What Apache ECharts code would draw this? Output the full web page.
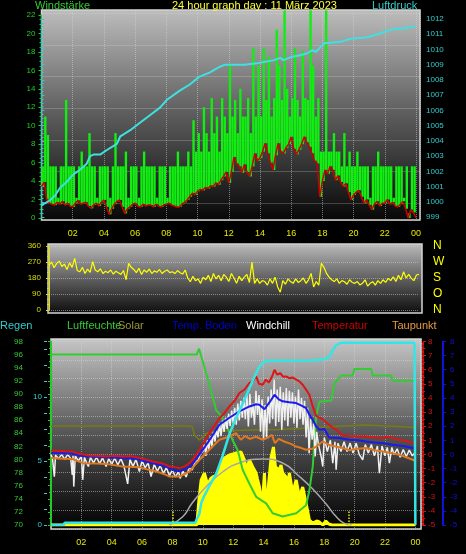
<!DOCTYPE html>
<html>
<head>
<meta charset="utf-8">
<title>24 hour graph day : 11 März 2023</title>
<script src="https://cdn.jsdelivr.net/npm/echarts@6/dist/echarts.min.js"></script>
<style>
  html, body { margin: 0; padding: 0; background: #000; }
  #chart { width: 466px; height: 554px; }
</style>
</head>
<body>
<div id="chart"></div>
<script>
// wind and direction: one sample every 10 minutes, 00:00 .. 24:00
const STEP = 1 / 6;

const windGust = [
  5.6, 11, 9, 5.6, 5.6, 5.6,
  2.2, 5.6, 5.6, 12.8, 5.6, 5.6,
  5.6, 2.2, 5.6, 7.2, 5.6, 5.6,
  9.2, 5.6, 5.6, 2.2, 5.6, 5.6,
  5.6, 5.6, 2.2, 5.6, 9.2, 5.6,
  5.6, 5.6, 7.2, 2.2, 5.6, 5.6,
  5.6, 2.2, 5.6, 7.2, 5.6, 5.6,
  5.6, 5.6, 2.2, 5.6, 5.6, 5.6,
  2.2, 5.6, 5.6, 5.6, 7.2, 5.6,
  5.6, 5.6, 7.2, 5.6, 10.6, 7.2,
  9.2, 7.2, 12, 9.2, 7.2, 13,
  9.2, 11, 7.2, 13, 11, 9.2,
  16.5, 11, 12.8, 9.2, 14, 11,
  11, 13, 9.2, 18.4, 11, 16.5,
  11, 18.4, 12.8, 17.5, 11, 13,
  20.4, 16.5, 12.8, 22.5, 14, 11,
  13, 18.4, 12.8, 11, 18.1, 13,
  12.8, 22.5, 16.5, 11, 13, 7.2,
  7.2, 22.5, 7.2, 7.2, 9.2, 7.2,
  7.2, 5.6, 9.2, 5.6, 7.2, 5.6,
  5.6, 7.2, 5.6, 5.6, 5.6, 5.6,
  2.2, 5.6, 5.6, 7.2, 5.6, 5.6,
  5.6, 5.6, 5.6, 2.2, 5.6, 5.6,
  5.6, 2.2, 5.6, 0.5, 5.6, 5.6,
  0
];

const windAvg = [
  3.4, 3.9, 2.0, 1.6, 1.5, 1.4,
  1.7, 1.5, 1.8, 1.4, 1.6, 1.3,
  1.2, 1.6, 1.9, 1.5, 1.6, 1.7,
  1.3, 1.05, 1.4, 1.6, 1.3, 1.7,
  1.95, 1.2, 0.4, 1.0, 1.5, 1.8,
  1.95, 1.2, 0.5, 1.0, 1.2, 1.5,
  1.6, 1.3, 1.2, 1.5, 1.3, 1.4,
  1.4, 1.2, 1.5, 1.3, 1.2, 1.4,
  1.5, 1.6, 1.4, 1.3, 1.2, 1.2,
  1.5, 1.7, 1.95, 2.3, 2.7, 2.5,
  2.9, 3.1, 3.0, 3.3, 3.2, 3.5,
  3.4, 3.8, 3.6, 4.1, 4.5, 5.0,
  3.8, 5.0, 6.6, 5.9, 5.6, 4.9,
  5.8, 5.0, 4.5, 5.6, 7.0, 6.2,
  6.5, 7.2, 8.1, 7.0, 6.0, 5.2,
  6.8, 8.1, 7.2, 7.0, 7.6, 8.0,
  8.8, 7.5, 6.9, 7.4, 8.0, 8.8,
  8.2, 7.7, 7.0, 6.2, 5.9, 2.3,
  4.0, 5.2, 4.8, 5.6, 5.2, 4.1,
  4.6, 3.9, 3.4, 3.75, 2.8, 1.95,
  2.5, 2.8, 3.0, 2.3, 1.6, 2.0,
  1.4, 0.9, 1.5, 1.8, 1.3, 1.6,
  1.6, 2.0, 1.5, 1.7, 1.3, 1.2,
  1.5, 1.8, 1.0, 0.0, 0.9, 0.6,
  0.0
];

const windDir = [
  253, 270, 238, 262, 275, 245,
  258, 228, 265, 240, 290, 222,
  215, 240, 205, 230, 212, 272,
  225, 215, 232, 205, 218, 210,
  225, 202, 218, 210, 200, 222,
  170, 262, 240, 228, 210, 235,
  200, 225, 212, 230, 205, 220,
  212, 228, 205, 218, 225, 210,
  215, 205, 222, 210, 202, 225,
  180, 159, 190, 165, 175, 150,
  185, 170, 195, 160, 205, 175,
  195, 165, 200, 185, 160, 205,
  180, 150, 190, 165, 185, 200,
  155, 270, 150, 175, 150, 165,
  160, 140, 175, 150, 185, 130,
  100, 165, 145, 175, 160, 150,
  175, 155, 165, 180, 150, 170,
  206, 130, 160, 140, 262, 240,
  206, 185, 170, 160, 175, 150,
  165, 159, 145, 170, 155, 150,
  160, 141, 150, 170, 135, 150,
  159, 140, 165, 150, 170, 155,
  178, 165, 187, 160, 195, 170,
  215, 180, 200, 178, 165, 197,
  200
];

// [hour, hPa]
const pressure = [
  [0, 999.8], [0.22, 999.9], [0.54, 1000.1], [0.86, 1000.4], [1.18, 1000.9], [1.61, 1001.3],
  [2.04, 1001.8], [2.47, 1002.1], [2.9, 1002.5], [3.11, 1003.0], [3.33, 1003.1], [3.76, 1003.1],
  [4.19, 1003.4], [4.83, 1003.8], [5.05, 1004.3], [5.69, 1004.7], [6.33, 1005.2], [6.97, 1005.7],
  [7.61, 1006.2], [8.04, 1006.7], [8.86, 1007.3], [9.5, 1007.7], [10.1, 1008.2], [10.8, 1008.5],
  [11.4, 1008.85], [11.76, 1009.0], [12.98, 1009.0], [13.83, 1009.1], [14.9, 1009.3], [15.3, 1009.45],
  [15.5, 1009.3], [15.97, 1009.5], [16.5, 1009.6], [17.04, 1009.75], [17.36, 1009.95], [17.6, 1009.85],
  [18.1, 1010.4], [19.16, 1010.5], [19.8, 1010.7], [20.87, 1010.8], [21.7, 1011.05], [22.34, 1011.3],
  [23.2, 1011.4], [23.95, 1011.5]
];

// [hour, W/m²]
const solarRad = [
  [0, 0], [9.6, 0], [9.75, 130], [9.89, 225], [10.1, 260], [10.32, 200], [10.5, 230], [10.65, 240],
  [10.98, 250], [11.2, 300], [11.42, 335], [11.75, 350], [12.0, 355], [12.2, 360], [12.52, 365],
  [12.74, 325], [12.85, 275], [13.07, 325], [13.29, 290], [13.51, 260], [13.6, 230], [13.73, 190],
  [13.85, 120], [13.95, 140], [14.06, 260], [14.17, 60], [14.34, 210], [14.5, 340], [14.65, 390],
  [14.78, 290], [15.05, 275], [15.15, 300], [15.26, 260], [15.48, 240], [15.6, 200], [15.7, 260],
  [15.92, 160], [16.05, 150], [16.15, 225], [16.25, 230], [16.36, 140], [16.58, 190], [16.8, 110],
  [17.02, 25], [17.24, 10], [17.5, 20], [17.68, 15], [17.9, 0], [18.1, 20], [18.3, 5], [18.5, 0], [24, 0]
];

const solarMax = [
  [7.8, 0], [8.66, 40], [9.3, 110], [10.2, 190], [11.3, 265], [12.4, 310], [13.95, 330],
  [15.26, 310], [16.4, 240], [17.24, 180], [18.12, 105], [18.78, 42], [19.33, 8], [19.8, 0]
];

const solar = [
  [0, 495], [8.9, 495], [9.3, 493], [9.45, 450], [9.78, 425], [10.0, 440], [10.2, 458], [10.9, 467],
  [12.0, 472], [13.07, 475], [15.0, 478], [16.36, 483], [18.56, 492], [20.76, 500], [22.95, 492], [24, 488]
];

const sunTimes = [8.0, 19.58];

// [hour, mm]
const rain = [
  [0, 0], [0.85, 0], [0.9, 0.18], [9.5, 0.18], [9.6, 0.3], [9.78, 0.9], [9.89, 1.7], [10.1, 2.3],
  [10.5, 3.2], [10.88, 4.0], [11.3, 5.4], [11.75, 7.1], [12.2, 8.4], [12.63, 9.5], [13.0, 10.5],
  [13.29, 11.3], [13.73, 12.4], [14.06, 12.76], [14.3, 12.83], [17.24, 12.85], [17.5, 12.9],
  [18.0, 12.95], [18.34, 13.15], [18.56, 13.67], [18.78, 14.06], [19.11, 14.24], [23.94, 14.24], [24, 0]
];

// [hour, %]
const humidity = [
  [0, 96], [9.6, 96], [9.75, 96.9], [9.85, 96.9], [10.1, 94.1], [10.55, 90.5], [10.88, 87.5],
  [11.2, 86.7], [11.64, 84.7], [11.97, 82.9], [12.3, 81.4], [12.63, 78.4], [13.07, 76.3],
  [13.51, 74.3], [14.17, 73.3], [14.6, 71.8], [15.26, 71.3], [16.15, 71.8], [16.8, 73],
  [17.02, 75.3], [17.24, 78.9], [17.46, 86.5], [17.68, 88.8], [18.45, 89.0], [18.67, 91.6],
  [19.11, 92.8], [19.87, 92.8], [19.98, 93.8], [21.09, 93.8], [21.19, 92.8], [22.4, 92.8],
  [22.51, 92], [24, 92]
];

// [hour, °C]
const temperature = [
  [0, 0.28], [0.5, 0.25], [1.0, 0.22], [1.43, 0.2], [1.87, 0.04], [2.5, -0.08], [3.0, -0.1],
  [3.63, -0.15], [4.2, -0.1], [4.72, -0.15], [5.3, -0.12], [5.82, -0.26], [6.2, -0.35], [6.7, -0.5],
  [7.2, -0.6], [7.58, -0.74], [7.8, -0.86], [8.2, -0.9], [8.46, -0.97], [8.8, -0.85], [9.12, -0.62],
  [9.45, -0.2], [9.78, 0.33], [10.1, 0.9], [10.43, 1.51], [10.75, 2.0], [11.09, 2.58], [11.4, 2.9],
  [11.75, 3.4], [12.1, 3.8], [12.41, 4.35], [12.75, 4.6], [13.07, 5.06], [13.3, 5.2], [13.51, 5.53],
  [13.7, 5.0], [13.95, 4.94], [14.15, 5.3], [14.35, 5.1], [14.55, 5.5], [14.72, 6.0], [14.9, 5.65],
  [15.1, 5.75], [15.3, 5.5], [15.48, 5.53], [15.7, 5.4], [15.9, 5.45], [16.15, 5.3], [16.36, 5.18],
  [16.6, 4.9], [16.8, 4.59], [17.02, 4.23], [17.24, 3.4], [17.46, 2.75], [17.68, 2.6], [17.9, 2.5],
  [18.2, 2.2], [18.45, 1.98], [18.78, 1.75], [19.22, 1.35], [19.66, 1.3], [20.2, 1.27], [20.76, 1.27],
  [21.3, 1.2], [21.85, 1.16], [22.2, 1.25], [22.51, 1.16], [22.95, 1.04], [23.4, 0.95], [23.83, 0.8],
  [24, 0.75]
];

const soilTemp = [
  [0, 0.09], [0.5, 0.08], [1.43, 0.04], [1.9, -0.1], [2.46, -0.15], [3.63, -0.2], [4.72, -0.26],
  [5.5, -0.3], [6.2, -0.5], [6.7, -0.62], [7.58, -0.86], [8.0, -1.1], [8.46, -1.2], [9.12, -0.9],
  [9.45, -0.5], [9.78, 0.0], [10.43, 1.0], [11.09, 2.1], [11.75, 2.6], [12.41, 3.05], [13.07, 3.4],
  [13.51, 3.55], [13.73, 3.52], [14.06, 3.2], [14.4, 3.7], [14.72, 4.23], [15.0, 3.9], [15.26, 3.76],
  [15.7, 3.7], [16.15, 3.64], [16.5, 3.45], [16.8, 3.29], [17.02, 2.8], [17.24, 2.46], [17.46, 2.0],
  [17.68, 1.75], [18.0, 1.8], [18.34, 1.2], [18.99, 1.16], [19.65, 1.04], [20.2, 1.0], [20.76, 0.92],
  [21.3, 0.85], [21.85, 0.8], [22.51, 0.68], [23.2, 0.6], [23.83, 0.45], [24, 0.4]
];

const dewPoint = [
  [0, -0.26], [0.8, -0.3], [1.43, -0.33], [2.09, -0.62], [3.0, -0.65], [3.63, -0.67], [4.72, -0.86],
  [5.82, -0.9], [6.3, -1.05], [6.7, -1.14], [7.2, -1.3], [7.58, -1.45], [7.8, -1.57], [8.46, -1.57],
  [9.12, -1.21], [9.45, -0.8], [9.78, -0.38], [10.43, 0.33], [11.09, 1.04], [11.75, 1.27], [12.19, 1.51],
  [12.5, 1.04], [12.8, 1.3], [13.1, 1.1], [13.5, 1.25], [13.95, 1.04], [14.3, 1.2], [14.55, 1.39],
  [14.75, 0.8], [15.0, 1.1], [15.4, 0.9], [15.8, 0.75], [16.15, 0.56], [16.5, 0.45], [16.8, 0.33],
  [17.2, 0.4], [17.46, 0.56], [17.9, 0.92], [18.0, 0.92], [18.3, 0.68], [18.6, 0.6], [19.22, 0.45],
  [19.66, 0.3], [20.2, 0.4], [20.76, 0.45], [21.3, 0.3], [21.85, 0.21], [22.4, 0.1], [22.95, -0.03],
  [23.4, -0.2], [23.83, -0.38], [24, -0.45]
];

const windchill = [
  [0, 0.0], [0.1, -0.3], [0.22, -1.57], [0.3, -0.05], [0.5, -0.3], [0.7, 0.0], [0.9, -0.35],
  [1.1, 0.0], [1.3, -0.3], [1.4, -1.45], [1.45, -0.1], [1.5, -2.28], [1.6, -0.1], [1.8, -0.45],
  [2.0, -0.15], [2.09, -1.8], [2.2, -0.2], [2.35, -0.6], [2.46, -0.86], [2.6, -0.2], [2.8, -0.6],
  [3.0, -0.2], [3.2, -0.65], [3.4, -0.25], [3.63, -0.86], [3.8, -0.3], [4.0, -0.7], [4.2, -0.25],
  [4.4, -0.75], [4.6, -0.3], [4.8, -0.8], [5.05, -2.09], [5.2, -0.35], [5.4, -0.85], [5.6, -0.35],
  [5.82, -1.21], [6.0, -0.45], [6.2, -0.95], [6.4, -0.6], [6.59, -1.57], [6.8, -0.7], [7.0, -1.2],
  [7.2, -0.8], [7.4, -1.35], [7.6, -0.95], [7.8, -1.5], [8.0, -1.1], [8.2, -1.6], [8.4, -1.2],
  [8.5, -1.7], [8.7, -1.2], [8.9, -1.6], [9.1, -0.95], [9.3, -1.1], [9.5, -0.5], [9.7, -0.4],
  [9.85, 0.1], [10.0, 0.2], [10.1, 0.7], [10.2, -0.1], [10.3, 1.0], [10.4, 0.3], [10.5, 1.3],
  [10.6, 0.5], [10.7, 1.6], [10.8, 0.9], [10.9, 1.8], [11.0, 1.2], [11.1, 2.2], [11.2, 1.3],
  [11.3, 2.4], [11.4, 1.6], [11.5, 2.6], [11.6, 1.8], [11.7, 2.9], [11.8, 2.0], [11.9, 3.1],
  [12.0, 2.2], [12.1, 3.3], [12.2, 2.1], [12.3, 3.6], [12.4, 2.4], [12.5, 3.8], [12.6, 2.6],
  [12.7, 4.0], [12.8, 2.5], [12.9, 4.2], [13.0, 1.98], [13.1, 4.3], [13.2, 2.6], [13.3, 3.6],
  [13.4, 2.1], [13.5, 4.5], [13.6, 2.8], [13.7, 4.2], [13.8, 1.6], [13.9, 3.9], [14.0, 1.04],
  [14.1, 3.5], [14.2, 1.2], [14.3, 4.1], [14.4, 2.2], [14.5, 4.6], [14.6, 2.5], [14.7, 5.3],
  [14.8, 2.0], [14.9, 4.6], [15.0, 2.3], [15.1, 4.8], [15.2, 1.75], [15.3, 4.4], [15.4, 2.4],
  [15.5, 4.7], [15.6, 2.0], [15.7, 4.5], [15.8, 2.6], [15.9, 4.4], [16.0, 2.2], [16.1, 4.1],
  [16.2, 1.9], [16.3, 4.6], [16.4, 2.5], [16.5, 4.0], [16.6, 2.1], [16.7, 3.8], [16.8, 1.2],
  [16.9, 3.3], [17.0, 0.09], [17.1, 2.5], [17.2, 1.04], [17.3, 2.2], [17.4, -0.15], [17.5, 1.6],
  [17.6, 0.8], [17.8, -0.2], [17.9, -0.86], [18.0, 1.2], [18.2, 0.2], [18.4, 1.0], [18.56, -0.62],
  [18.7, 0.9], [18.78, -1.09], [18.9, 0.8], [19.1, 0.2], [19.3, 0.9], [19.5, 0.21], [19.7, 0.8],
  [19.9, 0.1], [20.1, 0.8], [20.3, 0.0], [20.53, -0.38], [20.7, 0.7], [20.9, 0.1], [21.1, 0.7],
  [21.3, -0.1], [21.5, 0.6], [21.63, -1.33], [21.8, 0.6], [22.0, -0.1], [22.15, 0.5], [22.29, -0.62],
  [22.45, 0.5], [22.6, 0.0], [22.8, 0.4], [23.0, -0.2], [23.2, 0.35], [23.4, -0.15], [23.6, 0.3],
  [23.8, -0.1], [24, 0.15]
];

const compass = { 0: 'N', 90: 'O', 180: 'S', 270: 'W', 360: 'N' };

const FONT = '"Liberation Sans Narrow", "Liberation Sans", sans-serif';

function hourLabel(v) {
  if (v <= 0 || v % 2 !== 0) return '';
  return String(v % 24).padStart(2, '0');
}

function panelBg(top, mid, bottom) {
  return {
    type: 'linear', x: 0, y: 0, x2: 0, y2: 1,
    colorStops: [{ offset: 0, color: top }, { offset: 0.5, color: mid }, { offset: 1, color: bottom }]
  };
}

// text placed by its top-left corner
function caption(text, x, y, color) {
  return {
    type: 'text', x: x, y: y, z: 100, silent: true,
    style: { text: text, fill: color, font: '11px ' + FONT, textVerticalAlign: 'top', verticalAlign: 'top' }
  };
}

const dottedSplit = { show: true, lineStyle: { color: 'rgba(215,215,215,0.5)', type: 'dotted', width: 1 } };
const noAxis = { axisLine: { show: false }, axisTick: { show: false }, axisLabel: { show: false } };

function renderWindBar(params, api) {
  const t = api.value(0);
  const top = api.coord([t, api.value(2)]);
  const base = api.coord([t + STEP, api.value(1)]);
  return {
    type: 'rect',
    shape: { x: top[0], y: top[1], width: (base[0] - top[0]) * 0.92, height: base[1] - top[1] },
    style: { fill: '#11ee11' }
  };
}

function yScale(gridIndex, min, max, interval, color, extra) {
  return Object.assign({
    type: 'value', gridIndex: gridIndex, min: min, max: max, interval: interval,
    axisLine: { show: true, lineStyle: { color: color } },
    axisTick: { show: true, length: 3, lineStyle: { color: color } },
    minorTick: { show: true, splitNumber: 2, length: 2, lineStyle: { color: color } },
    axisLabel: { color: color, fontSize: 8, margin: 6, formatter: function (v) { return String(v); } },
    splitLine: { show: false }
  }, extra);
}

const chart = echarts.init(document.getElementById('chart'));

chart.setOption({
  backgroundColor: '#000',
  animation: false,
  textStyle: { fontFamily: FONT },
  grid: [
    { left: 41.5, right: 46, top: 10, height: 210, show: true,
      backgroundColor: panelBg('#bdbdbd', '#5c5c5c', '#070707'), borderColor: '#d4d4d4', borderWidth: 1.5 },
    { left: 41.5, right: 46, top: 15, height: 203 },
    { left: 41.5, right: 46, top: 19, height: 198 },
    { left: 41.5, right: 46, top: 13.3, height: 206.7 },
    { left: 48, right: 44, top: 244, height: 69, show: true,
      backgroundColor: panelBg('#bcbcbc', '#606060', '#0c0c0c'), borderColor: '#d4d4d4', borderWidth: 1.5 },
    { left: 49, right: 47, top: 246, height: 64 },
    { left: 51, right: 45, top: 339, height: 190, show: true,
      backgroundColor: panelBg('#c6c6c6', '#555555', '#000000'), borderColor: '#d4d4d4', borderWidth: 1.5 },
    { left: 51, right: 45, top: 341.5, height: 183.5 }
  ],
  xAxis: [
    { type: 'value', gridIndex: 0, min: 0, max: 24.256, interval: 2,
      axisLine: { show: false }, axisTick: { show: false },
      axisLabel: { color: '#e8e800', fontSize: 9, margin: 9, formatter: hourLabel },
      splitLine: dottedSplit },
    { type: 'value', gridIndex: 1, min: 0, max: 24.256, show: false },
    { type: 'value', gridIndex: 2, min: 0, max: 24.256, show: false },
    { type: 'value', gridIndex: 3, min: 0, max: 24.256, show: false },
    { type: 'value', gridIndex: 4, min: 0, max: 24, show: false },
    { type: 'value', gridIndex: 5, min: 0, max: 24, show: false },
    { type: 'value', gridIndex: 6, min: 0, max: 24.37, interval: 2,
      axisLine: { show: false }, axisTick: { show: false },
      axisLabel: { color: '#e8e800', fontSize: 9, margin: 9, formatter: hourLabel },
      splitLine: dottedSplit },
    { type: 'value', gridIndex: 7, min: 0, max: 24.37, show: false }
  ],
  yAxis: [
    { type: 'value', gridIndex: 0, show: false },
    yScale(1, 0, 22, 2, '#22cc22', { position: 'left',
      minorTick: { show: true, splitNumber: 4, length: 2, lineStyle: { color: '#22cc22' } } }),
    yScale(2, 999, 1012, 1, '#33cccc', { position: 'right',
      minorTick: { show: true, splitNumber: 4, length: 2, lineStyle: { color: '#33cccc' } } }),
    Object.assign({ type: 'value', gridIndex: 3, min: 0, max: 206.7, interval: 31.67, inverse: true,
      splitLine: dottedSplit }, noAxis),
    { type: 'value', gridIndex: 4, show: false },
    yScale(5, 0, 360, 90, '#dddd00', { position: 'left', offset: 3,
      axisLabel: { color: '#dddd00', fontSize: 8, margin: 5 },
      minorTick: { show: true, splitNumber: 3, length: 2, lineStyle: { color: '#dddd00' } },
      splitLine: dottedSplit }),
    { type: 'value', gridIndex: 5, min: 0, max: 360, interval: 90, position: 'right',
      axisLine: { show: false }, axisTick: { show: false }, splitLine: { show: false },
      axisLabel: { color: '#ffff00', fontSize: 12, margin: 14, formatter: function (v) { return compass[v] || ''; } } },
    Object.assign({ type: 'value', gridIndex: 6, min: 0, max: 190, interval: 18.8,
      splitLine: dottedSplit }, noAxis),
    yScale(7, 70, 98, 2, '#22cc22', { position: 'left', offset: 21,
      axisLine: { show: true, lineStyle: { color: '#22cc22', width: 2 } },
      axisLabel: { color: '#33cc33', fontSize: 8, margin: 7 } }),
    yScale(7, 0, 14.34, 5, '#33cccc', { position: 'left', offset: 4,
      axisLine: { show: false },
      minorTick: { show: true, splitNumber: 4, length: 3, lineStyle: { color: '#33cccc' } },
      axisLabel: { color: '#33cccc', fontSize: 8, margin: 5,
        formatter: function (v) { return v % 5 === 0 ? String(v) : ''; } } }),
    yScale(7, -5, 8, 1, '#dd1111', { position: 'right', offset: 2,
      axisLine: { show: true, lineStyle: { color: '#dd1111', type: 'dotted', width: 2 } },
      axisLabel: { color: '#dd1111', fontSize: 8, margin: 5 } }),
    yScale(7, -5, 8, 1, '#1111dd', { position: 'right', offset: 22,
      axisLine: { show: true, lineStyle: { color: '#1111dd', width: 2 } },
      minorTick: { show: false },
      axisLabel: { color: '#1111dd', fontSize: 8, margin: 7 } }),
    { type: 'value', gridIndex: 7, min: 0, max: 917.5, show: false }
  ],
  graphic: [
    caption('Windstärke', 35, 0, '#33cc33'),
    caption('24 hour graph day : 11 März 2023', 172, 0, '#ffff33'),
    caption('Luftdruck', 372, 0, '#33cccc'),
    caption('Regen', 0, 320, '#33cccc'),
    caption('Luftfeuchte', 67, 320, '#33cc33'),
    caption('Solar', 118, 320, '#999933'),
    caption('Temp. Boden', 172, 320, '#0000cc'),
    caption('Windchill', 246, 320, '#ffffff'),
    caption('Temperatur', 312, 320, '#cc0000'),
    caption('Taupunkt', 392, 320, '#e89a40')
  ],
  series: [
    { type: 'custom', name: 'Windböen', xAxisIndex: 1, yAxisIndex: 1, renderItem: renderWindBar,
      data: windGust.map(function (g, i) { return [i * STEP, windAvg[i], g]; }), z: 2 },
    { type: 'line', name: 'Windstärke', xAxisIndex: 1, yAxisIndex: 1, symbol: 'none', z: 3,
      data: windAvg.map(function (v, i) { return [i * STEP, v]; }),
      lineStyle: { color: '#cc0000', width: 1.5 } },
    { type: 'line', name: 'Luftdruck', xAxisIndex: 2, yAxisIndex: 2, symbol: 'none', z: 4,
      data: pressure, lineStyle: { color: '#40e0e0', width: 2 } },
    { type: 'line', name: 'Windrichtung', xAxisIndex: 5, yAxisIndex: 5, symbol: 'none',
      data: windDir.map(function (v, i) { return [i * STEP, v]; }),
      lineStyle: { color: '#ffff00', width: 1.2 } },
    { type: 'line', name: 'Strahlung', xAxisIndex: 7, yAxisIndex: 12, symbol: 'none', data: solarRad,
      lineStyle: { color: '#ffff00', width: 3 }, areaStyle: { color: '#ffff00', opacity: 1 },
      markLine: { silent: true, symbol: ['none', 'none'], label: { show: false },
        lineStyle: { color: '#e8e800', type: 'dotted', width: 1.5 },
        data: sunTimes.map(function (t) { return [{ coord: [t, 0] }, { coord: [t, 75] }]; }) } },
    { type: 'line', name: 'Sonne max', xAxisIndex: 7, yAxisIndex: 12, symbol: 'none', smooth: true,
      data: solarMax, lineStyle: { color: '#a8a8a8', width: 1.5 } },
    { type: 'line', name: 'Solar', xAxisIndex: 7, yAxisIndex: 12, symbol: 'none',
      data: solar, lineStyle: { color: '#7a7a10', width: 1.5 } },
    { type: 'line', name: 'Luftfeuchte', xAxisIndex: 7, yAxisIndex: 8, symbol: 'none',
      data: humidity, lineStyle: { color: '#33cc33', width: 2 } },
    { type: 'line', name: 'Windchill', xAxisIndex: 7, yAxisIndex: 10, symbol: 'none',
      data: windchill, lineStyle: { color: '#f0f0f0', width: 1.5 } },
    { type: 'line', name: 'Taupunkt', xAxisIndex: 7, yAxisIndex: 10, symbol: 'none',
      data: dewPoint, lineStyle: { color: '#e07820', width: 2 } },
    { type: 'line', name: 'Temp. Boden', xAxisIndex: 7, yAxisIndex: 11, symbol: 'none',
      data: soilTemp, lineStyle: { color: '#1a1aee', width: 2 } },
    { type: 'line', name: 'Temperatur', xAxisIndex: 7, yAxisIndex: 10, symbol: 'none',
      data: temperature, lineStyle: { color: '#dd1515', width: 2 } },
    { type: 'line', name: 'Regen', xAxisIndex: 7, yAxisIndex: 9, symbol: 'none',
      data: rain, lineStyle: { color: '#33e6e6', width: 2.5 } }
  ]
});
</script>
</body>
</html>
